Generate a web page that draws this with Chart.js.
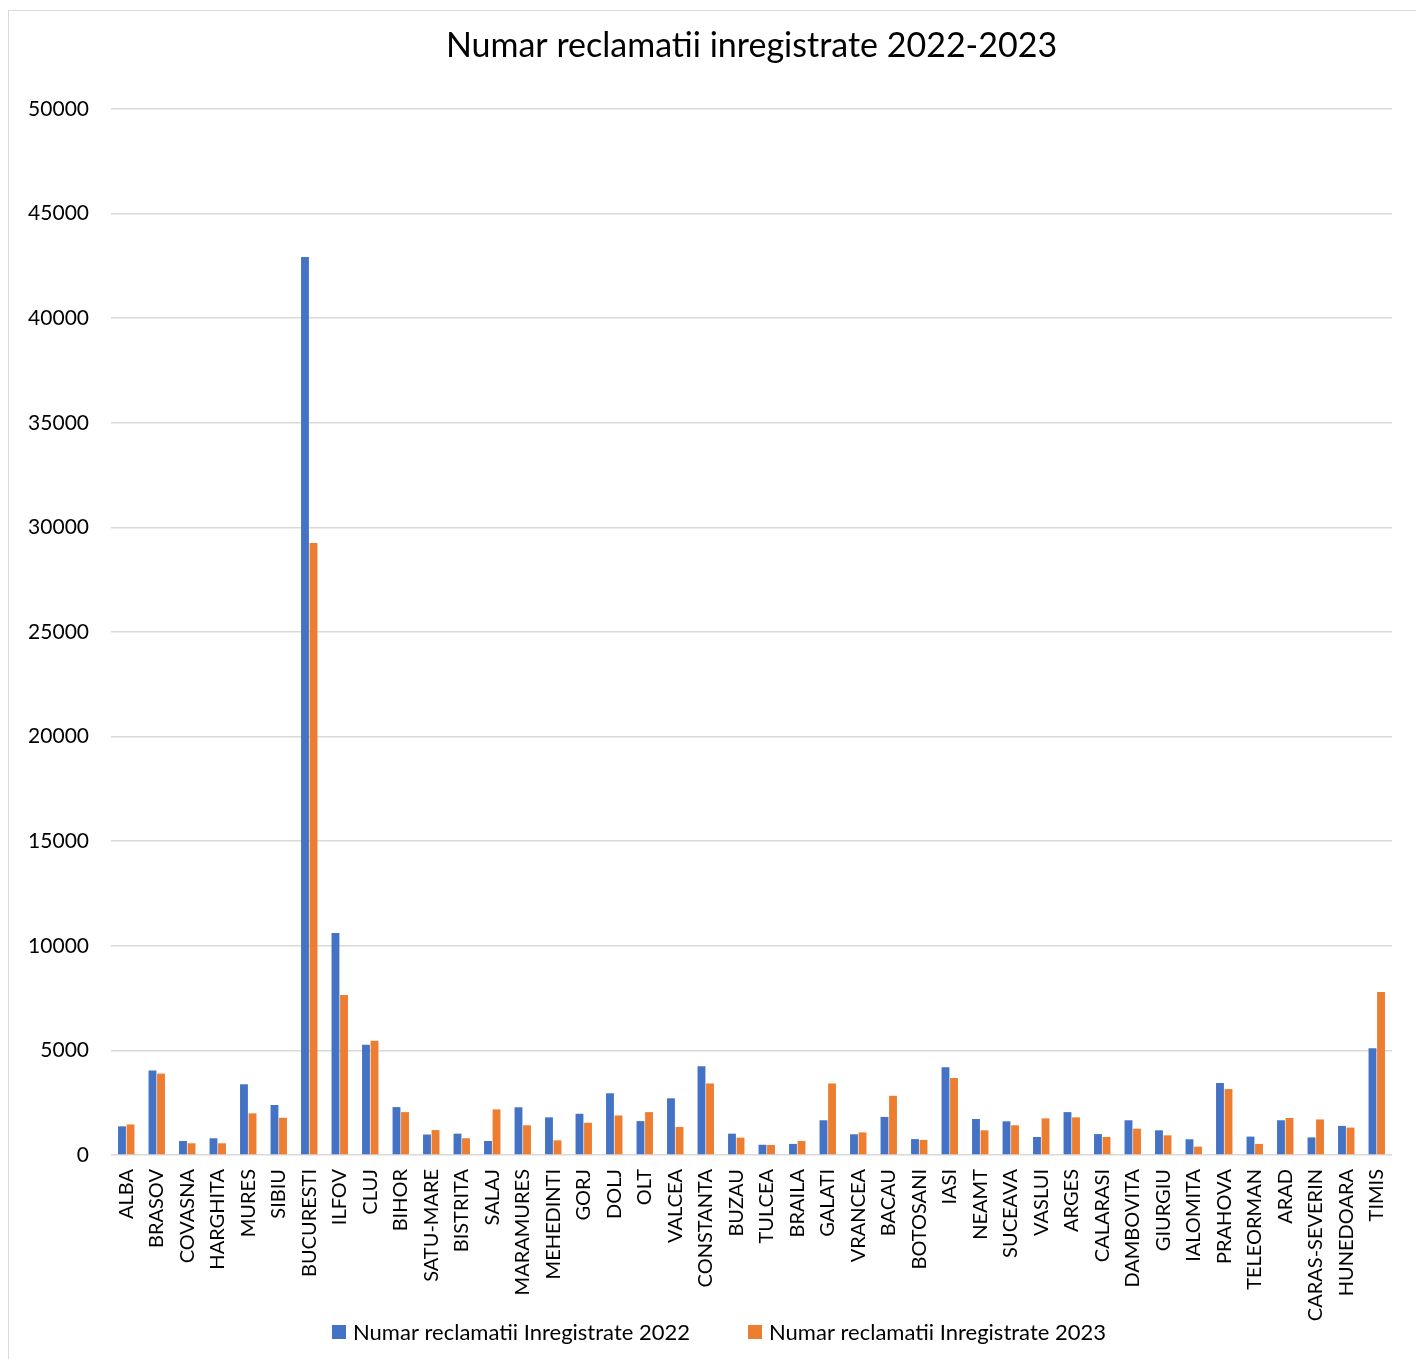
<!DOCTYPE html>
<html>
<head>
<meta charset="utf-8">
<script src="https://cdn.jsdelivr.net/npm/chart.js@4.4.1/dist/chart.umd.min.js"></script>
<style>
  html, body { margin: 0; padding: 0; background: #ffffff; overflow: hidden; }
  #frame {
    position: absolute; left: 8px; top: 10px;
    width: 1420px; height: 1360px;
    border: 1px solid #d9d9d9; box-sizing: border-box;
  }
  #wrap { position: absolute; left: 0; top: 0; width: 1408px; height: 1349px; }
</style>
</head>
<body>
<div id="frame"><div id="wrap"><canvas id="c"></canvas></div></div>
<script>
// Counties
const judete = ["ALBA","BRASOV","COVASNA","HARGHITA","MURES","SIBIU","BUCURESTI","ILFOV","CLUJ","BIHOR",
  "SATU-MARE","BISTRITA","SALAJ","MARAMURES","MEHEDINTI","GORJ","DOLJ","OLT","VALCEA","CONSTANTA",
  "BUZAU","TULCEA","BRAILA","GALATI","VRANCEA","BACAU","BOTOSANI","IASI","NEAMT","SUCEAVA",
  "VASLUI","ARGES","CALARASI","DAMBOVITA","GIURGIU","IALOMITA","PRAHOVA","TELEORMAN","ARAD","CARAS-SEVERIN",
  "HUNEDOARA","TIMIS"];

// Registered complaints, 2022
const reclamatii2022 = [1370,4040,670,800,3380,2390,42930,10610,5270,2290,
  980,1020,670,2280,1800,1970,2950,1620,2710,4240,
  1020,490,530,1660,990,1820,760,4190,1720,1610,
  860,2050,1000,1660,1180,750,3440,880,1660,840,
  1390,5100];

// Registered complaints, 2023
const reclamatii2023 = [1460,3890,560,560,1990,1780,29250,7650,5460,2050,
  1190,800,2180,1420,700,1540,1890,2050,1340,3420,
  830,480,670,3420,1080,2830,720,3680,1180,1420,
  1750,1800,860,1260,940,400,3150,530,1770,1700,
  1310,7790];

const yTicks = [0,5000,10000,15000,20000,25000,30000,35000,40000,45000,50000];

const titleText = "Numar reclamatii inregistrate 2022-2023";
const FONT = "Lato, 'Open Sans', sans-serif";

// Title centred over the plotting area, legend row under the category labels
const decorPlugin = {
  id: 'decor',
  afterDraw(chart) {
    const { ctx, chartArea, width } = chart;
    ctx.save();
    ctx.fillStyle = "#000000";
    ctx.textBaseline = "middle";

    ctx.font = "34px " + FONT;
    ctx.textAlign = "center";
    ctx.fillText(titleText, (chartArea.left + chartArea.right) / 2, 35);

    // legend
    const box = 14, textGap = 7, itemGap = 58, y = 1321;
    ctx.font = "22px " + FONT;
    ctx.textAlign = "left";
    const items = chart.data.datasets.map(ds => ({
      label: ds.label, color: ds.backgroundColor,
      w: box + textGap + ctx.measureText(ds.label).width
    }));
    const total = items.reduce((s, it) => s + it.w, 0) + itemGap * (items.length - 1);
    let x = width / 2 - total / 2 + 6;
    items.forEach(it => {
      ctx.fillStyle = it.color;
      ctx.fillRect(x, y - box / 2, box, box);
      ctx.fillStyle = "#000000";
      ctx.fillText(it.label, x + box + textGap, y + 1);
      x += it.w + itemGap;
    });
    ctx.restore();
  }
};

new Chart(document.getElementById('c'), {
  type: 'bar',
  data: {
    labels: judete,
    datasets: [
      { label: "Numar reclamatii Inregistrate 2022", data: reclamatii2022,
        backgroundColor: "#4472C4", borderWidth: 0 },
      { label: "Numar reclamatii Inregistrate 2023", data: reclamatii2023,
        backgroundColor: "#ED7D31", borderWidth: 0 }
    ]
  },
  plugins: [decorPlugin],
  options: {
    responsive: true,
    maintainAspectRatio: false,
    animation: false,
    datasets: { bar: { categoryPercentage: 0.56, barPercentage: 0.92 } },
    layout: { padding: { top: 98, right: 25, bottom: 25, left: 0 } },
    plugins: {
      title: { display: false },
      tooltip: { enabled: false },
      legend: { display: false }
    },
    scales: {
      x: {
        grid: { display: false, drawTicks: false },
        border: { display: false },
        ticks: {
          autoSkip: false, minRotation: 90, maxRotation: 90,
          padding: 14,
          font: { family: FONT, size: 20 },
          color: "#000000"
        },
        afterFit(scale) { scale.height = 180; }
      },
      y: {
        min: 0, max: 50000,
        afterBuildTicks(scale) { scale.ticks = yTicks.map(v => ({ value: v })); },
        grid: { color: "#d9d9d9", lineWidth: 1.5, drawTicks: false },
        border: { display: false },
        ticks: {
          padding: 22,
          font: { family: FONT, size: 21 },
          color: "#000000",
          callback: (v) => String(v)
        },
        afterFit(scale) { scale.width = 102; }
      }
    }
  }
});
</script>
</body>
</html>
